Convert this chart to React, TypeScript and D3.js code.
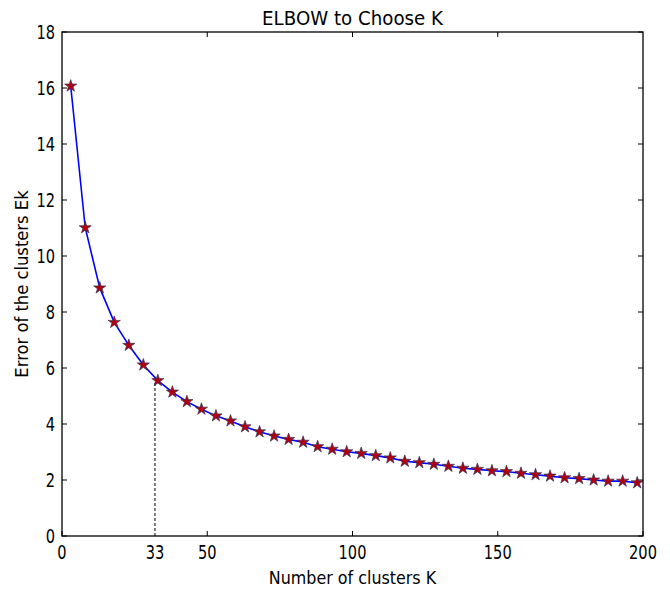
import React from "react";
import * as d3 from "d3";

// number of clusters tried and the error measured for each
const kValues = [
  3, 8, 13, 18, 23, 28, 33, 38, 43, 48, 53, 58, 63, 68, 73, 78, 83, 88, 93, 98,
  103, 108, 113, 118, 123, 128, 133, 138, 143, 148, 153, 158, 163, 168, 173, 178, 183, 188, 193, 198,
];
const errValues = [
  16.07, 11.01, 8.86, 7.63, 6.81, 6.11, 5.55, 5.14, 4.8, 4.53, 4.29, 4.11, 3.9, 3.72, 3.57, 3.45,
  3.35, 3.19, 3.1, 3.01, 2.95, 2.87, 2.79, 2.67, 2.62, 2.56, 2.49, 2.42, 2.38, 2.33, 2.3, 2.24,
  2.19, 2.14, 2.08, 2.05, 2.0, 1.96, 1.96, 1.9,
];
const xTicks = [0, 50, 100, 150, 200];
const xTopTicks = [50, 100, 150];
const yTicks = [0, 2, 4, 6, 8, 10, 12, 14, 16, 18];
// the elbow marker: label says 33, drawn where the picture puts it
const elbowLabel = "33";
const elbowPos = 32;
const elbowErr = 5.55;

// text squeezed horizontally, the picture looks stretched vertically
function Txt(props: {
  x: number;
  y: number;
  size: number;
  sx: number;
  anchor?: string;
  rotate?: number;
  children: React.ReactNode;
}) {
  const { x, y, size, sx, anchor, rotate, children } = props;
  return (
    <text
      transform={`translate(${x},${y})${rotate ? ` rotate(${rotate})` : ""} scale(${sx},1)`}
      textAnchor={anchor || "middle"}
      fontSize={size}
    >
      {children}
    </text>
  );
}

export default function App() {
  const width = 670,
    height = 589;
  const margin = { top: 32, right: 27, bottom: 53, left: 62 };
  const innerW = width - margin.left - margin.right;
  const innerH = height - margin.top - margin.bottom;

  const x = d3.scaleLinear().domain([0, 200]).range([0, innerW]);
  const y = d3.scaleLinear().domain([0, 18]).range([innerH, 0]);

  const data = kValues.map((k, i) => ({ k, e: errValues[i] }));
  const line = d3
    .line<{ k: number; e: number }>()
    .x((d) => x(d.k))
    .y((d) => y(d.e));
  const star = d3.symbol().type(d3.symbolStar).size(46)();

  const font = "'DejaVu Sans', sans-serif";
  const tickLen = 5;
  const tickSize = 20,
    tickSx = 0.73;

  return (
    <svg
      width={width}
      height={height}
      style={{ position: "absolute", left: 0, top: 0, background: "#fff" }}
      fontFamily={font}
    >
      <Txt x={margin.left + innerW / 2} y={25} size={20} sx={0.91}>
        ELBOW to Choose K
      </Txt>
      <g transform={`translate(${margin.left},${margin.top})`}>
        {/* ticks pointing inward, matplotlib classic */}
        {yTicks.map((t) => (
          <g key={"y" + t}>
            <line x1={0} x2={tickLen} y1={y(t)} y2={y(t)} stroke="#000" />
            <line x1={innerW} x2={innerW - tickLen} y1={y(t)} y2={y(t)} stroke="#000" />
            <Txt x={-7} y={y(t) + 7} size={tickSize} sx={tickSx} anchor="end">
              {t}
            </Txt>
          </g>
        ))}
        {xTicks.map((t) => (
          <g key={"x" + t}>
            <line x1={x(t)} x2={x(t)} y1={innerH} y2={innerH - tickLen} stroke="#000" />
            <Txt x={x(t)} y={innerH + 23} size={tickSize} sx={tickSx}>
              {t}
            </Txt>
          </g>
        ))}
        <Txt x={x(elbowPos)} y={innerH + 23} size={tickSize} sx={tickSx}>
          {elbowLabel}
        </Txt>
        {xTopTicks.map((t) => (
          <line key={"xt" + t} x1={x(t)} x2={x(t)} y1={0} y2={tickLen} stroke="#000" />
        ))}

        <line
          x1={x(elbowPos)}
          x2={x(elbowPos)}
          y1={y(0)}
          y2={y(elbowErr)}
          stroke="#000"
          strokeWidth={1}
          strokeDasharray="3,2"
        />

        <path d={line(data) || ""} fill="none" stroke="#0000ff" strokeWidth={1.6} />
        {data.map((d) => (
          <path
            key={d.k}
            d={star || ""}
            transform={`translate(${x(d.k)},${y(d.e)})`}
            fill="#b00010"
            stroke="#333355"
            strokeWidth={0.7}
          />
        ))}

        <rect x={0} y={0} width={innerW} height={innerH} fill="none" stroke="#000" strokeWidth={1.3} />

        <Txt x={innerW / 2} y={innerH + 48} size={17.5} sx={0.91}>
          Number of clusters K
        </Txt>
      </g>
      <Txt x={28} y={margin.top + innerH / 2} size={18} sx={0.91} rotate={-90}>
        Error of the clusters Ek
      </Txt>
    </svg>
  );
}
